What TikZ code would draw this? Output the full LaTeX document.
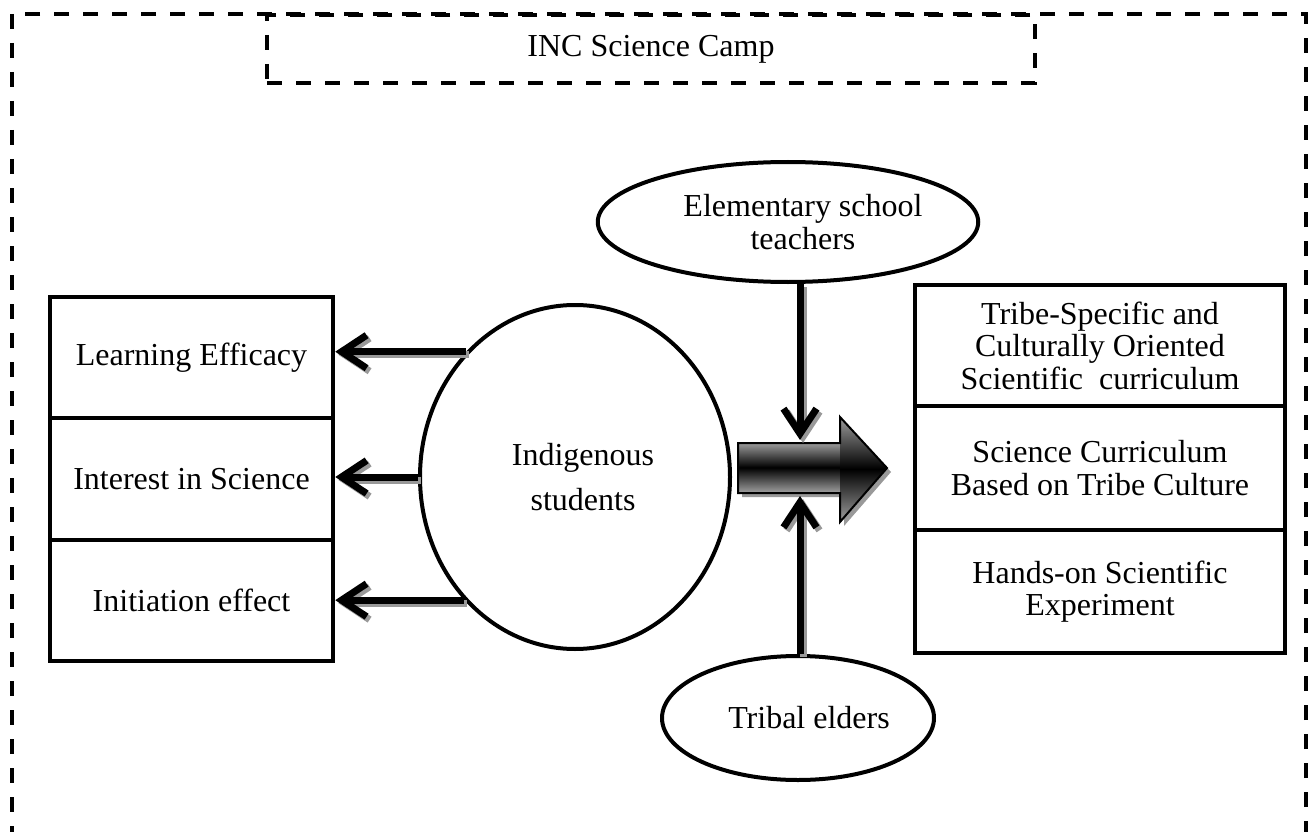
\documentclass[tikz,border=0pt]{standalone}
\usepackage{fontspec}
\setmainfont{Liberation Serif}
\usetikzlibrary{arrows.meta,shapes.geometric,calc}
\definecolor{shadowgray}{gray}{0.6}
\begin{document}
\begin{tikzpicture}[x=1pt,y=-1pt,
  txt/.style={font=\fontsize{32}{32.5}\selectfont, align=center},
  framebox/.style={draw, line width=4pt, dash pattern=on 15pt off 14pt},
  lbox/.style={txt, draw, rectangle, line width=4.5pt, minimum width=283pt, inner sep=0pt},
  rbox/.style={txt, draw, rectangle, line width=4.5pt, minimum width=370pt, inner sep=0pt},
  oval/.style={txt, draw, ellipse, line width=4pt, inner sep=0pt},
  arr/.style={line width=7pt, -{Straight Barb[length=25pt,width=33pt]}},
  arrshadow/.style={arr, draw=shadowgray, transform canvas={xshift=3pt,yshift=-3pt}}
]
\useasboundingbox (0,0) rectangle (1315,832);
\clip (0,0) rectangle (1315,832);

% outer dashed frame (bottom edge lies below the picture)
\draw[framebox] (12,14) rectangle (1306,880);

% title box
\node[txt, framebox, rectangle, minimum width=768pt, minimum height=68pt, inner sep=0pt] (camp) at (651,49) {INC Science Camp};

% left boxes
\node[lbox, minimum height=121pt] (b1) at (191.5,357.5) {Learning Efficacy};
\node[lbox, minimum height=122pt] (b2) at (191.5,479) {Interest in Science};
\node[lbox, minimum height=121pt] (b3) at (191.5,600.5) {Initiation effect};

% right boxes
\node[rbox, minimum height=121pt] (r1) at (1100,345.5) {Tribe-Specific and\\Culturally Oriented\\Scientific\ \ curriculum};
\node[rbox, minimum height=124pt] (r2) at (1100,468) {Science Curriculum\\Based on Tribe Culture};
\node[rbox, minimum height=123pt] (r3) at (1100,591.5) {Hands-on Scientific\\Experiment};

% ellipses
\node[oval, minimum width=310pt, minimum height=344pt, font=\fontsize{32}{45}\selectfont] (st) at (575,477) {\hspace*{16pt}Indigenous\\\hspace*{16pt}students};
\node[oval, minimum width=336pt, minimum height=120pt] (te) at (788,222) {\hspace*{30pt}Elementary school\\\hspace*{30pt}teachers};
\node[oval, minimum width=272pt, minimum height=124pt] (tr) at (798,718) {\hspace*{22pt}Tribal elders};

% big block arrow
\coordinate (bat) at (800,440);
\coordinate (bab) at (800,496);
\fill[shadowgray] (742,447) -- (844,447) -- (844,421) -- (891,472) -- (844,526) -- (844,497) -- (742,497) -- cycle;
\begin{scope}
  \clip (738,443) rectangle (841,493);
  \foreach \i in {0,...,49} {
    \pgfmathsetmacro\c{100-62*abs(\i+0.5-25)/25}
    \fill[black!\c] (738,443+\i) rectangle (841,444.6+\i);
  }
\end{scope}
\begin{scope}
  \clip (840,417) -- (887,468) -- (840,522) -- cycle;
  \foreach \i in {0,...,104} {
    \pgfmathsetmacro\c{100-62*abs(\i+0.5-52.5)/52.5}
    \fill[black!\c] (839,417+\i) rectangle (888,418.6+\i);
  }
\end{scope}
\draw[line width=2pt, line join=miter] (738,443) -- (840,443) -- (840,417) -- (887,468) -- (840,522) -- (840,493) -- (738,493) -- cycle;

% arrows from students to outcomes (shadow first)
\draw[arrshadow] (st.131.8) -- (st.131.8 -| b1.east);
\draw[arrshadow] (st.west) -- (st.west -| b2.east);
\draw[arrshadow] (st.228.2) -- (st.228.2 -| b3.east);
\draw[arrshadow] (te.south -| bat) -- (bat);
\draw[arrshadow] (tr.north -| bab) -- (bab);

\draw[arr] (st.131.8) -- (st.131.8 -| b1.east);
\draw[arr] (st.west) -- (st.west -| b2.east);
\draw[arr] (st.228.2) -- (st.228.2 -| b3.east);
\draw[arr] (te.south -| bat) -- (bat);
\draw[arr] (tr.north -| bab) -- (bab);
\end{tikzpicture}
\end{document}
